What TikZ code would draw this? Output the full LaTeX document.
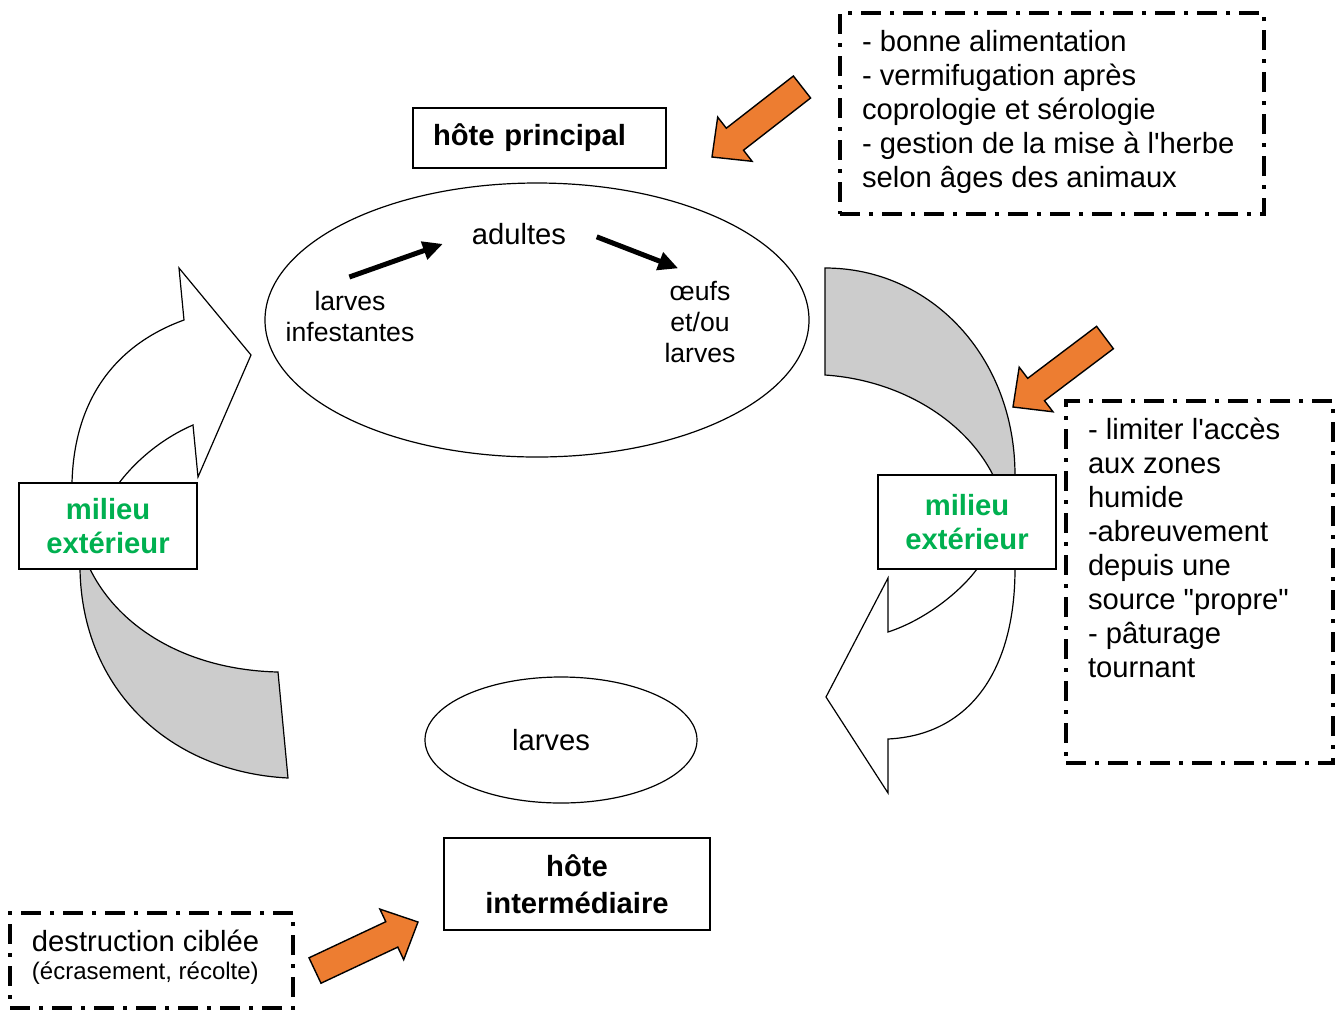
\documentclass[tikz,border=0pt]{standalone}
\usepackage{fontspec}
\setmainfont{Liberation Sans}
\usetikzlibrary{shapes.geometric, arrows.meta}

\definecolor{flechorange}{RGB}{237,125,49}
\definecolor{cyclegris}{RGB}{204,204,204}
\definecolor{milieuvert}{RGB}{0,176,80}
\newcommand{\txt}{\fontsize{14.6}{17}\selectfont}

\begin{document}
\begin{tikzpicture}[x=0.5pt, y=-0.5pt, every node/.style={font=\txt},
  hote/.style={draw, line width=0.8pt, font=\txt\bfseries, align=center},
  milieu/.style={draw, line width=0.8pt, fill=white, font=\txt\bfseries, text=milieuvert, align=center, minimum width=89pt},
  stade/.style={align=center, inner sep=3pt, font=\fontsize{13.3}{15.5}\selectfont},
  boucle/.style={draw, line width=0.6pt, line join=miter},
  mesure/.style={draw, line width=2pt, dash pattern=on 10pt off 4.5pt on 2pt off 4.5pt, anchor=north west, outer sep=0pt, inner xsep=11pt, inner ysep=8.5pt},
  contre/.style={draw, line width=0.7pt, fill=flechorange, line join=miter},
  evolution/.style={line width=2.5pt, -{Triangle[length=10pt,width=9pt]}}]
\useasboundingbox (0,0) rectangle (1341,1009);

% passages par le milieu exterieur
\draw[boucle, fill=white] (72,520) -- (72,483) .. controls (74,400) and (115,345) .. (184,320) -- (179,268) -- (251,355) -- (198,477) -- (193,425) .. controls (165,437) and (138,458) .. (119,483) -- (119,520) -- cycle;
\draw[boucle, fill=cyclegris] (80,530) -- (80,569) .. controls (82,690) and (170,772) .. (288,778) -- (278,672) .. controls (190,670) and (120,630) .. (90,569) -- (90,530) -- cycle;
\draw[boucle, fill=cyclegris] (825,268) .. controls (932,268) and (1015,358) .. (1015,475) -- (1015,520) -- (995,520) -- (993,475) .. controls (965,420) and (900,380) .. (825,375) -- cycle;
\draw[boucle, fill=white] (1015,530) -- (1015,569) .. controls (1015,670) and (970,735) .. (888,739) -- (888,793) -- (826,697) -- (888,578) -- (888,632) .. controls (925,620) and (960,592) .. (977,569) -- (977,530) -- cycle;

\node[hote, minimum height=30pt, text width=106.5pt, align=left, inner xsep=10pt] (hp) at (539.5,138) {hôte principal};
\node[draw, ellipse, line width=0.6pt, minimum width=272pt, minimum height=137pt, inner sep=0pt] (chez) at (537,320) {};
\node[stade] (inf) at (350,316) {larves\\infestantes};
\node[stade, font=\txt] (adt) at (519,234) {adultes};
\node[stade] (oeu) at (700,322) {œufs\\et/ou\\larves};

\node[milieu, minimum height=43pt] (mg) at (108,526) {milieu\\extérieur};
\node[milieu, minimum height=47pt] (md) at (967,522) {milieu\\extérieur};

\node[draw, ellipse, line width=0.6pt, minimum width=136pt, minimum height=63pt] (lv) at (561,740) {larves\hspace*{10pt}};
\node[hote, minimum width=133pt, minimum height=46pt, font=\fontsize{14.6}{18.5}\selectfont\bfseries] (hi) at (577,884) {hôte\\intermédiaire};

\draw[evolution, shorten <=11pt, shorten >=12pt] (inf.124) -- (adt.182);
\draw[evolution, shorten <=13pt, shorten >=9pt] (adt.7) -- (oeu.96);

% mesures de lutte
\node[mesure] (mp) at (840,13) {\parbox[c][83.5pt][t]{190pt}{\raggedright - bonne alimentation\\- vermifugation après\\coprologie et sérologie\\- gestion de la mise à l\textquotesingle herbe\\selon âges des animaux}};
\node[mesure] (me) at (1066,401) {\parbox[c][164pt][t]{111.5pt}{\raggedright - limiter l\textquotesingle accès\\aux zones\\humide\\-abreuvement\\depuis une\\source \textquotedbl propre\textquotedbl\\- pâturage\\tournant}};
\node[mesure] (mi) at (10,913) {\parbox[c][30.5pt][t]{119.5pt}{\raggedright destruction ciblée\\\fontsize{12}{14}\selectfont (écrasement, récolte)}};

\draw[contre] (712,157) -- (717.7,117.1) -- (726.3,128.2) -- (793.4,76) -- (810.6,98) -- (743.5,150.2) -- (752.1,161.3) -- cycle;
\draw[contre] (1013,407) -- (1019.2,367.2) -- (1027.7,378.3) -- (1096.6,326.3) -- (1113.4,348.7) -- (1044.5,400.7) -- (1053,411.8) -- cycle;
\draw[contre] (418,922) -- (379.9,909.1) -- (385.8,921.7) -- (309,957.8) -- (321,983.2) -- (397.8,947.1) -- (403.7,959.7) -- cycle;
\end{tikzpicture}
\end{document}
